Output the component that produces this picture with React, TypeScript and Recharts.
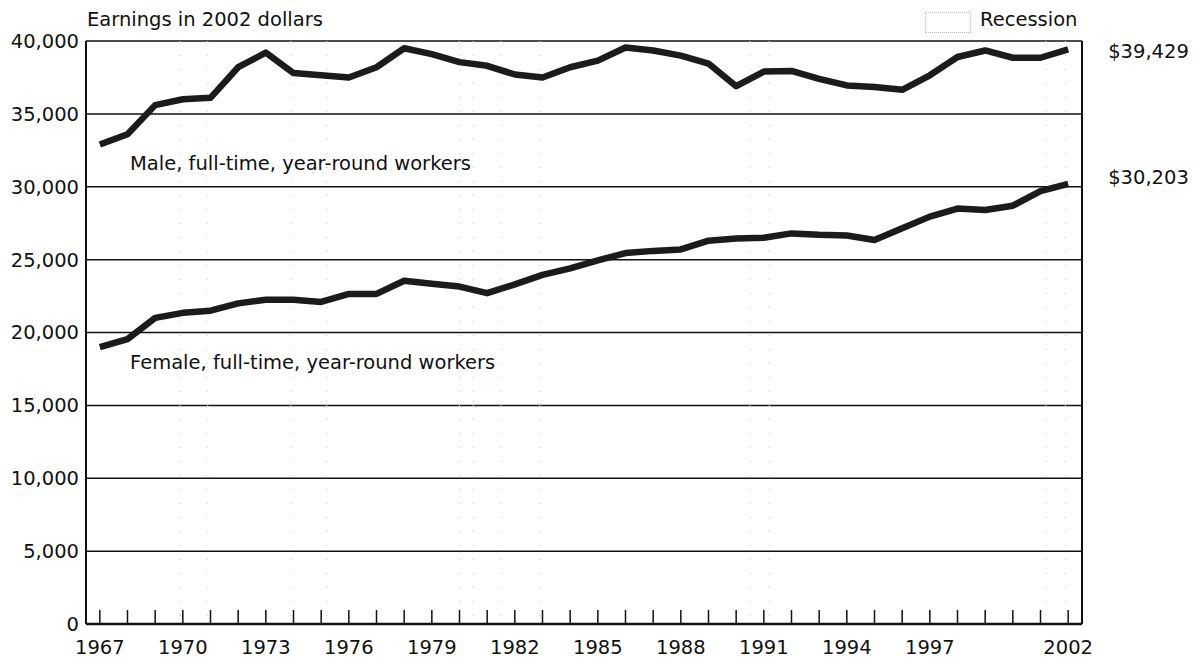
import {
  LineChart,
  Line,
  XAxis,
  YAxis,
  CartesianGrid,
  ReferenceArea,
  ReferenceLine,
} from "recharts";

const YEARS = [
  1967, 1968, 1969, 1970, 1971, 1972, 1973, 1974, 1975, 1976, 1977, 1978,
  1979, 1980, 1981, 1982, 1983, 1984, 1985, 1986, 1987, 1988, 1989, 1990,
  1991, 1992, 1993, 1994, 1995, 1996, 1997, 1998, 1999, 2000, 2001, 2002,
];

// median earnings, 2002 dollars
const MALE = [
  32900, 33600, 35600, 36000, 36100, 38200, 39200, 37800, 37650, 37500, 38200,
  39500, 39100, 38550, 38300, 37700, 37500, 38200, 38650, 39550, 39350, 39000,
  38450, 36900, 37900, 37950, 37400, 36950, 36850, 36650, 37650, 38900, 39350,
  38850, 38850, 39429,
];

const FEMALE = [
  19000, 19550, 21000, 21350, 21500, 22000, 22250, 22250, 22100, 22650, 22650,
  23550, 23350, 23150, 22700, 23300, 23950, 24400, 24950, 25450, 25600, 25700,
  26300, 26450, 26500, 26800, 26700, 26650, 26350, 27150, 27950, 28500, 28400,
  28700, 29700, 30203,
];

const Y_TICKS = [0, 5000, 10000, 15000, 20000, 25000, 30000, 35000, 40000];
const LABEL_YEARS = [
  1967, 1970, 1973, 1976, 1979, 1982, 1985, 1988, 1991, 1994, 1997, 2002,
];

// recession periods (fractional years)
const RECESSIONS: [number, number][] = [
  [1969.9, 1970.9],
  [1973.9, 1975.2],
  [1980.0, 1980.5],
  [1981.5, 1982.9],
  [1990.5, 1991.2],
  [2001.2, 2001.9],
];

const data = YEARS.map((year, i) => ({
  year,
  male: MALE[i],
  female: FEMALE[i],
}));

const FONT = "'DejaVu Sans', Verdana, sans-serif";
const INK = "#111";
const LINE_COLOR = "#1b1b1b";
const FONT_SIZE = 19.5;

function YearTick(props: any) {
  const { x, y, payload } = props;
  const yr = payload.value;
  return (
    <g>
      <line x1={x} x2={x} y1={y} y2={y - 14} stroke={INK} strokeWidth={1.5} />
      {LABEL_YEARS.includes(yr) && (
        <text
          x={x}
          y={y + 23}
          dy="0.35em"
          textAnchor="middle"
          fill={INK}
          fontSize={FONT_SIZE}
          fontFamily={FONT}
        >
          {yr}
        </text>
      )}
    </g>
  );
}

function RecessionShape(props: any) {
  const { x, y, width, height } = props;
  return (
    <g>
      {[x, x + width].map((lx: number, i: number) => (
        <line
          key={i}
          x1={lx}
          x2={lx}
          y1={y}
          y2={y + height}
          stroke="#c8c8c8"
          strokeWidth={1}
          strokeDasharray="1 13"
        />
      ))}
    </g>
  );
}

const endLabel = (offsetY: number) => (props: any) => {
  const { x, y, index, value } = props;
  if (index !== YEARS.length - 1) return <g />;
  return (
    <text
      x={x + 40}
      y={y + offsetY}
      dy="0.35em"
      fill={INK}
      fontSize={FONT_SIZE}
      fontFamily={FONT}
    >
      ${Number(value).toLocaleString("en-US")}
    </text>
  );
};

const textStyle = {
  position: "absolute" as const,
  fontFamily: FONT,
  fontSize: FONT_SIZE,
  lineHeight: "22px",
  color: INK,
  whiteSpace: "nowrap" as const,
};

export default function App() {
  return (
    <div
      style={{
        position: "fixed",
        left: 0,
        top: 0,
        width: 1198,
        height: 658,
        background: "#fff",
      }}
    >
      <LineChart
        width={1198}
        height={658}
        data={data}
        margin={{ top: 41, right: 116, bottom: 0, left: 0 }}
      >
        <CartesianGrid
          vertical={false}
          stroke={INK}
          strokeWidth={1.5}
          strokeOpacity={1}
        />
        {RECESSIONS.map(([a, b]) => (
          <ReferenceArea
            key={a}
            x1={a}
            x2={b}
            shape={<RecessionShape />}
          />
        ))}
        <XAxis
          dataKey="year"
          type="number"
          domain={[1966.5, 2002.5]}
          ticks={YEARS}
          interval={0}
          height={34}
          tickSize={0}
          tickMargin={0}
          tickLine={false}
          tick={<YearTick />}
          axisLine={{ stroke: INK, strokeWidth: 2.5 }}
        />
        <YAxis
          width={86}
          domain={[0, 40000]}
          ticks={Y_TICKS}
          interval={0}
          tickSize={0}
          tickMargin={7}
          tickLine={false}
          axisLine={{ stroke: INK, strokeWidth: 2 }}
          tickFormatter={(v: number) => v.toLocaleString("en-US")}
          tick={{ fill: INK, fontSize: FONT_SIZE, fontFamily: FONT }}
        />
        <ReferenceLine x={2002.5} stroke={INK} strokeWidth={2} />
        <Line
          dataKey="male"
          type="linear"
          stroke={LINE_COLOR}
          strokeWidth={6.5}
          strokeLinejoin="round"
          dot={false}
          isAnimationActive={false}
          label={endLabel(2)}
        />
        <Line
          dataKey="female"
          type="linear"
          stroke={LINE_COLOR}
          strokeWidth={6.5}
          strokeLinejoin="round"
          dot={false}
          isAnimationActive={false}
          label={endLabel(-7)}
        />
      </LineChart>

      <div style={{ ...textStyle, left: 87, top: 9 }}>
        Earnings in 2002 dollars
      </div>
      <div
        style={{
          position: "absolute",
          left: 925,
          top: 12,
          width: 44,
          height: 19,
          border: "1px dotted #bbb",
        }}
      />
      <div style={{ ...textStyle, left: 980, top: 9 }}>Recession</div>
      <div style={{ ...textStyle, left: 130, top: 153 }}>
        Male, full-time, year-round workers
      </div>
      <div style={{ ...textStyle, left: 130, top: 352 }}>
        Female, full-time, year-round workers
      </div>
    </div>
  );
}
